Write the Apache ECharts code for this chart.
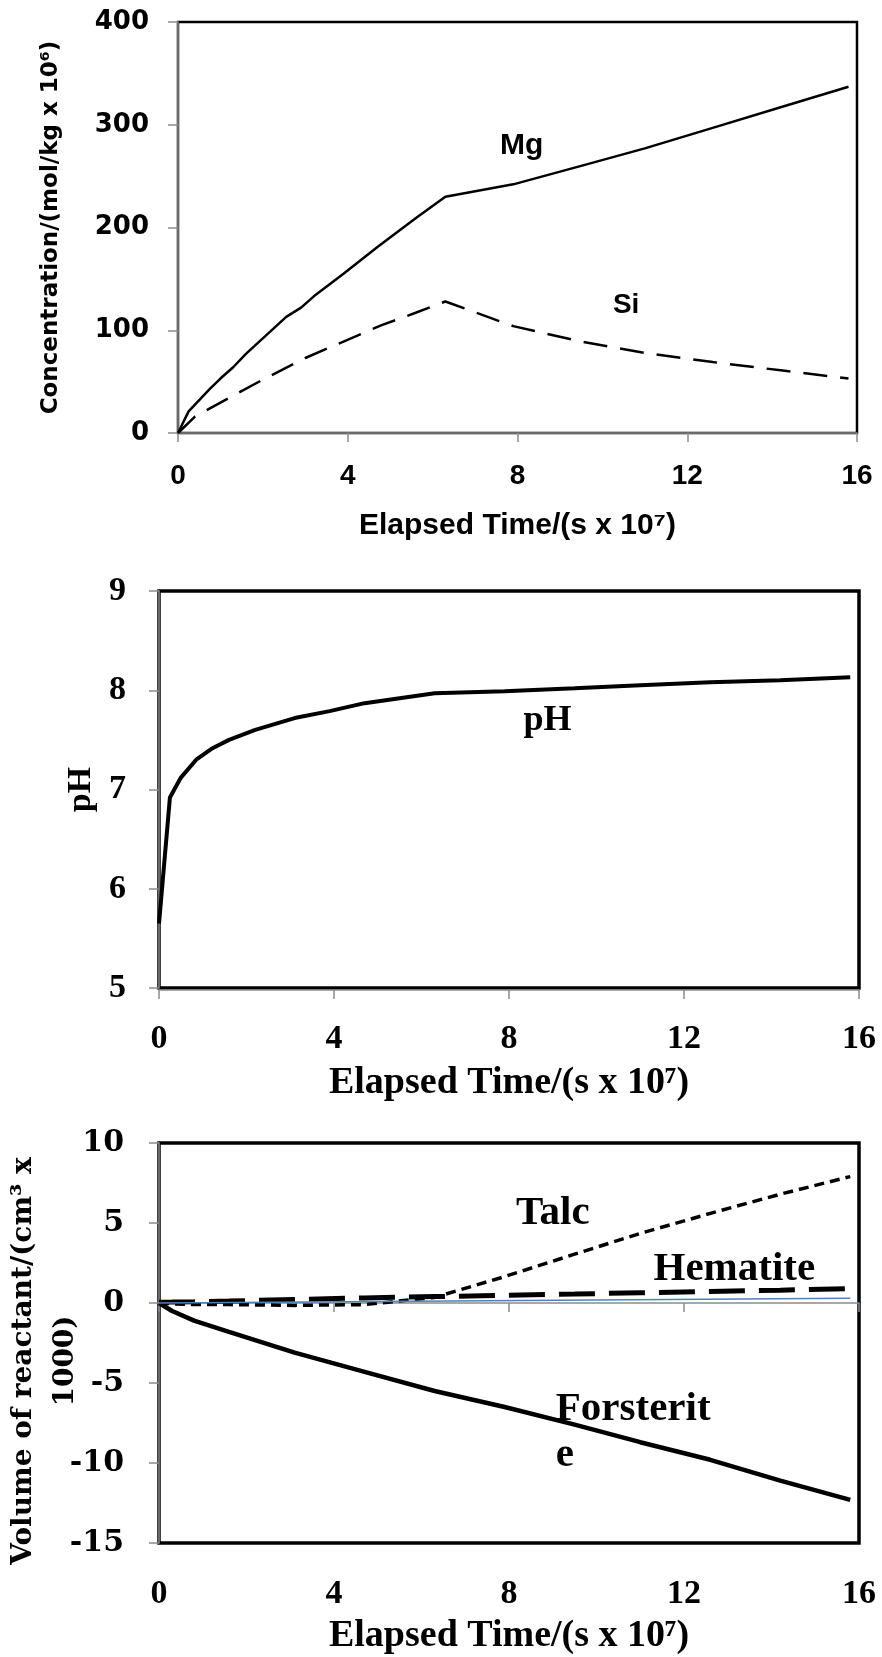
<!DOCTYPE html>
<html>
<head>
<meta charset="utf-8">
<title>Olivine dissolution</title>
<script src="https://cdn.jsdelivr.net/npm/echarts@6/dist/echarts.min.js"></script>
<style>
  html, body { margin: 0; padding: 0; background: #fff; }
  #chart { width: 882px; height: 1657px; }
</style>
</head>
<body>
<div id="chart"></div>
<script>
// elapsed time in s x 10^7
const mgTime = [0, 0.25, 0.75, 1.0, 1.3, 1.6, 2.05, 2.55, 2.9, 3.2, 3.9, 4.7, 5.6, 6.3, 7.9, 9.5, 11.0, 12.6, 14.2, 15.8];
const mgConc = [0, 21, 43, 53, 64, 77, 94, 113, 122, 133, 155, 181, 209, 230, 242, 260, 277, 297, 317, 337];

const siTime = [0, 0.4, 1.2, 2.0, 3.0, 3.9, 4.8, 5.6, 6.3, 7.9, 9.5, 11.0, 12.6, 14.2, 15.8];
const siConc = [0, 16, 34, 52, 73, 89, 105, 117, 128, 104, 89, 78, 69, 61, 53];

const phTime = [0, 0.25, 0.5, 0.85, 1.2, 1.6, 2.2, 3.1, 3.9, 4.7, 5.5, 6.3, 7.9, 9.5, 11.0, 12.6, 14.2, 15.8];
const phValue = [5.65, 6.92, 7.12, 7.3, 7.41, 7.5, 7.6, 7.72, 7.79, 7.87, 7.92, 7.97, 7.99, 8.02, 8.05, 8.08, 8.1, 8.13];

const volTime = [0, 0.3, 0.8, 1.6, 3.1, 4.7, 6.3, 7.9, 9.5, 11.0, 12.6, 14.2, 15.8];
const forsterite = [0, -0.5, -1.1, -1.8, -3.1, -4.3, -5.5, -6.5, -7.6, -8.7, -9.8, -11.1, -12.3];
const talc = [0, -0.05, -0.1, -0.1, -0.15, -0.1, 0.35, 1.65, 3.05, 4.35, 5.6, 6.8, 7.9];
const hematite = [0.05, 0.06, 0.08, 0.12, 0.22, 0.32, 0.4, 0.48, 0.56, 0.64, 0.72, 0.8, 0.9];
const zeroTime = [0, 15.8];
const zeroLine = [0, 0.3];

const xTitle = "Elapsed Time/(s x 10\u2077)";

const zip = (xs, ys) => xs.map((x, i) => [x, ys[i]]);

const sans = "'Liberation Sans', Arial, sans-serif";
const verdana = "'DejaVu Sans', Verdana, sans-serif";
const serif = "'Liberation Serif', 'Times New Roman', serif";
const wideSerif = "'DejaVu Serif', serif";
const grey = "#8c8c8c";

function xAxis(gridIndex, font, size, margin, nameSize, nameGap) {
  return {
    gridIndex: gridIndex,
    type: "value",
    min: 0,
    max: 16,
    interval: 4,
    offset: 2,
    name: xTitle,
    nameLocation: "middle",
    nameGap: nameGap,
    nameMoveOverlap: false,
    nameTextStyle: { fontFamily: font, fontWeight: "bold", fontSize: nameSize, color: "#000" },
    axisLine: { show: true, lineStyle: { color: grey, width: 1.5 } },
    axisTick: { show: true, length: 9, lineStyle: { color: grey, width: 1.5 } },
    axisLabel: { fontFamily: font, fontWeight: "bold", fontSize: size, color: "#000", margin: margin },
    splitLine: { show: false }
  };
}

function yAxis(gridIndex, min, max, interval, name, font, size, margin, nameStyle, nameGap) {
  return {
    gridIndex: gridIndex,
    type: "value",
    min: min,
    max: max,
    interval: interval,
    offset: 2,
    name: name,
    nameLocation: "middle",
    nameRotate: 90,
    nameGap: nameGap,
    nameMoveOverlap: false,
    nameTextStyle: nameStyle,
    axisLine: { show: true, lineStyle: { color: grey, width: 1.5 } },
    axisTick: { show: true, length: 10, lineStyle: { color: grey, width: 1.5 } },
    axisLabel: { fontFamily: font, fontWeight: "bold", fontSize: size, color: "#000", margin: margin },
    splitLine: { show: false }
  };
}

function line(name, idx, data, width, type) {
  return {
    name: name,
    type: "line",
    xAxisIndex: idx,
    yAxisIndex: idx,
    data: data,
    symbol: "none",
    lineStyle: { color: "#000", width: width, type: type, cap: "butt" },
    silent: true
  };
}

const chart = echarts.init(document.getElementById("chart"));

chart.setOption({
  animation: false,
  backgroundColor: "#fff",
  grid: [
    { left: 178, top: 22, width: 679, height: 411, show: true, borderColor: "#000", borderWidth: 2.5, outerBoundsMode: "none" },
    { left: 159, top: 591, width: 700, height: 397, show: true, borderColor: "#000", borderWidth: 3.5, outerBoundsMode: "none" },
    { left: 159, top: 1143, width: 700, height: 400, show: true, borderColor: "#000", borderWidth: 3.5, outerBoundsMode: "none" }
  ],
  xAxis: [
    xAxis(0, sans, 28, 27, 30, 76),
    xAxis(1, serif, 34, 32, 38, 74),
    xAxis(2, serif, 34, 32, 38, 72)
  ],
  yAxis: [
    yAxis(0, 0, 400, 100, "Concentration/(mol/kg x 10\u2076)", verdana, 26, 27,
      { fontFamily: verdana, fontWeight: "bold", fontSize: 23, color: "#000" }, 113),
    yAxis(1, 5, 9, 1, "pH", serif, 34, 31,
      { fontFamily: serif, fontWeight: "bold", fontSize: 34, color: "#000" }, 59),
    yAxis(2, -15, 10, 5, "Volume of reactant/(cm\u00b3 x\n1000)", wideSerif, 30, 33,
      { fontFamily: wideSerif, fontWeight: "bold", fontSize: 28, lineHeight: 42, color: "#000", padding: [0, 36, 0, 0] }, 70)
  ],
  series: [
    line("Mg", 0, zip(mgTime, mgConc), 2.5, "solid"),
    line("Si", 0, zip(siTime, siConc), 2.5, [24, 13]),
    line("pH", 1, zip(phTime, phValue), 4, "solid"),
    line("Forsterite", 2, zip(volTime, forsterite), 4.5, "solid"),
    line("Talc", 2, zip(volTime, talc), 3.5, [10, 6]),
    line("Hematite", 2, zip(volTime, hematite), 5, [36, 14]),
    {
      name: "zero",
      type: "line",
      xAxisIndex: 2,
      yAxisIndex: 2,
      data: zip(zeroTime, zeroLine),
      symbol: "none",
      lineStyle: { color: "#4f81bd", width: 1.5 },
      silent: true
    }
  ]
});

// series names written inside the plots, anchored in data units
const notes = [
  { grid: 0, text: "Mg", at: [8.1, 280], font: sans, size: 30, align: "center" },
  { grid: 0, text: "Si", at: [10.56, 124], font: sans, size: 28, align: "center" },
  { grid: 1, text: "pH", at: [8.88, 7.69], font: serif, size: 36, align: "center" },
  { grid: 2, text: "Talc", at: [9.0, 5.6], font: serif, size: 41, align: "center" },
  { grid: 2, text: "Hematite", at: [13.15, 2.1], font: serif, size: 41, align: "center" },
  { grid: 2, text: "Forsterit\ne", at: [9.07, -8.09], font: serif, size: 41, align: "left", lineHeight: 46 }
];

chart.setOption({
  graphic: notes.map((n) => {
    const p = chart.convertToPixel({ xAxisIndex: n.grid, yAxisIndex: n.grid }, n.at);
    return {
      type: "text",
      x: p[0],
      y: p[1],
      silent: true,
      style: {
        text: n.text,
        fill: "#000",
        fontFamily: n.font,
        fontWeight: "bold",
        fontSize: n.size,
        lineHeight: n.lineHeight || n.size,
        align: n.align,
        verticalAlign: "middle"
      }
    };
  })
});
</script>
</body>
</html>
